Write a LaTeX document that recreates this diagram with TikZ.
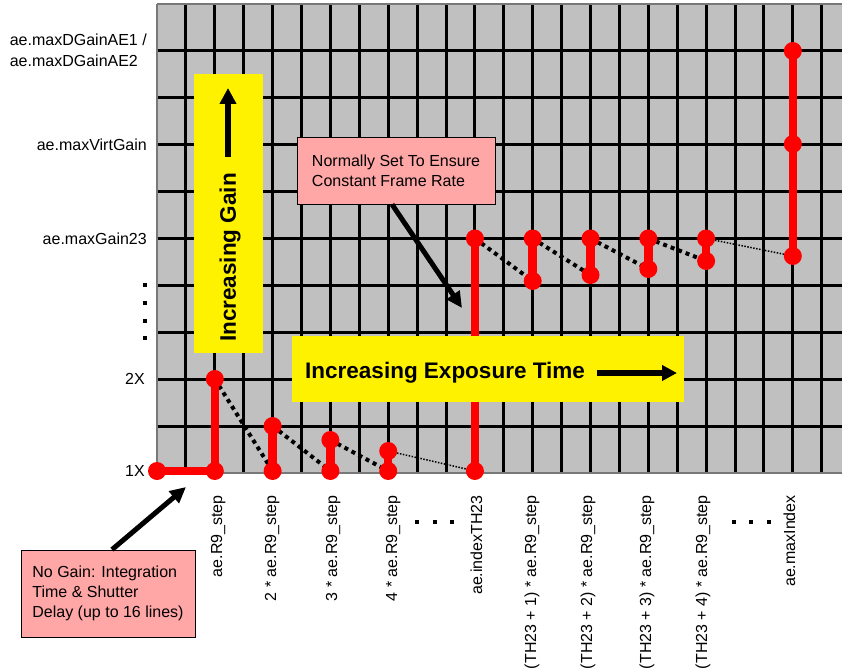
\documentclass[tikz,border=0pt]{standalone}
\usepackage{fontspec}
\setmainfont{Liberation Sans}
\usetikzlibrary{arrows.meta}
\definecolor{gridgray}{RGB}{192,192,192}
\definecolor{notepink}{RGB}{255,166,166}
\definecolor{ptred}{RGB}{255,0,0}
\definecolor{framegray}{RGB}{120,120,120}
\begin{document}
\begin{tikzpicture}[x=1pt,y=-1pt,
  reddot/.style={circle,fill=ptred,inner sep=0pt,minimum size=18pt},
  redline/.style={draw=ptred,line width=8.5pt},
  thickdots/.style={line width=4pt,dash pattern=on 4pt off 4pt},
  thindots/.style={line width=1.5pt,dash pattern=on 1.5pt off 1.5pt},
  gridline/.style={line width=3pt},
  axlabel/.style={font=\fontsize{16}{21}\selectfont,inner sep=0pt},
  ticklabel/.style={font=\fontsize{16}{18}\selectfont,inner sep=0pt,rotate=90,anchor=base east},
  yellowbox/.style={fill=yellow,inner sep=0pt},
  notebox/.style={fill=notepink,draw=black,line width=0.8pt,inner sep=0pt,align=left,font=\fontsize{16}{20}\selectfont},
  bigarrow/.style={line width=5pt,-{Triangle[length=16pt,width=15pt]}},
  boldtext/.style={font=\bfseries\fontsize{22.5}{26}\selectfont,inner sep=0pt},
  ellipsisdot/.style={fill=black,minimum size=4pt,inner sep=0pt}]
\useasboundingbox (0,0) rectangle (842,668);
% grid
\fill[gridgray] (157,4) rectangle (842,473);
\foreach \k in {1,...,23} \draw[gridline] ({157+28.9*\k},4) -- ({157+28.9*\k},473);
\foreach \j in {1,...,9} \draw[gridline] (157,{473-46.9*\j}) -- (842,{473-46.9*\j});
\draw[framegray,line width=1.5pt] (157,4) -- (157,473) -- (842,473);
\draw[framegray,line width=2.5pt] (157,4) -- (842,4);
% points
\coordinate (a0) at (157,471);
\coordinate (a1) at (214.8,471);
\coordinate (t1) at (214.8,379);
\coordinate (b2) at (272.6,471);
\coordinate (t2) at (272.6,426);
\coordinate (b3) at (330.4,471);
\coordinate (t3) at (330.4,440);
\coordinate (b4) at (388.2,471);
\coordinate (t4) at (388.2,451);
\coordinate (b5) at (474.9,471);
\coordinate (t5) at (474.9,238.5);
\coordinate (t6) at (532.7,238.5);
\coordinate (b6) at (532.7,281);
\coordinate (t7) at (590.5,238.5);
\coordinate (b7) at (590.5,275);
\coordinate (t8) at (648.3,238.5);
\coordinate (b8) at (648.3,269);
\coordinate (t9) at (706.1,238.5);
\coordinate (b9) at (706.1,261);
\coordinate (m1) at (792.8,51);
\coordinate (m2) at (792.8,144);
\coordinate (m3) at (792.8,256);
% dotted connections
\draw[thickdots] (t1) -- (b2);
\draw[thickdots] (t2) -- (b3);
\draw[thickdots] (t3) -- (b4);
\draw[thindots] (t4) -- (b5);
\draw[thickdots] (t5) -- (b6);
\draw[thickdots] (t6) -- (b7);
\draw[thickdots] (t7) -- (b8);
\draw[thickdots] (t8) -- (b9);
\draw[thindots] (t9) -- (m3);
% red steps
\draw[redline] (a0) -- (a1) -- (t1);
\draw[redline] (b2) -- (t2);
\draw[redline] (b3) -- (t3);
\draw[redline] (b4) -- (t4);
\draw[redline] (b5) -- (t5);
\draw[redline] (t6) -- (b6);
\draw[redline] (t7) -- (b7);
\draw[redline] (t8) -- (b8);
\draw[redline] (t9) -- (b9);
\draw[redline] (m1) -- (m3);
\foreach \p in {a0,a1,t1,b2,t2,b3,t3,b4,t4,b5,t5,t6,b6,t7,b7,t8,b8,t9,b9,m1,m2,m3}
  \node[reddot] (d\p) at (\p) {};
% yellow boxes
\node[yellowbox,minimum width=69pt,minimum height=279pt] (gainbox) at (228.5,213.5) {};
\node[boldtext,rotate=90] (gaintext) at (230,257.5) {Increasing Gain};
\coordinate (g0) at (228,157);
\coordinate (g1) at (228,88);
\draw[line width=6pt,-{Triangle[length=16pt,width=16pt]}] (g0) -- (g1);
\node[yellowbox,minimum width=392pt,minimum height=66pt] (expbox) at (488,369) {};
\node[boldtext,anchor=base west] (exptext) at (305,378) {Increasing Exposure Time};
\coordinate (e0) at (597,373);
\coordinate (e1) at (677,373);
\draw[line width=5.5pt,-{Triangle[length=15pt,width=15pt]}] (e0) -- (e1);
% notes
\node[notebox,minimum width=198pt,minimum height=67pt] (note1) at (396,170.5) {Normally Set To Ensure\\Constant Frame Rate};
\coordinate (tipA) at (462,308);
\draw[bigarrow] ([xshift=-4pt]note1.south) -- (tipA);
\node[notebox,minimum width=174pt,minimum height=87pt] (note2) at (108,593.5) {No Gain: Integration\\Time \& Shutter\\Delay (up to 16 lines)};
\coordinate (tipB) at (186,487);
\draw[bigarrow] ([xshift=4pt]note2.north) -- (tipB);
% y labels
\node[axlabel,anchor=east,align=left] (y1) at (147,50) {ae.maxDGainAE1 /\\ae.maxDGainAE2};
\node[axlabel,anchor=east] (y2) at (147,144.7) {ae.maxVirtGain};
\node[axlabel,anchor=east] (y3) at (147,238.5) {ae.maxGain23};
\node[axlabel,anchor=east] (y4) at (145,379) {2X};
\node[axlabel,anchor=east] (y5) at (145,471) {1X};
\node[ellipsisdot] (v1) at (145,285) {};
\node[ellipsisdot] (v2) at (145,303) {};
\node[ellipsisdot] (v3) at (145,320.5) {};
\node[ellipsisdot] (v4) at (145,338) {};
% x labels
\node[ticklabel] (x1) at (222,495) {ae.R9\_step};
\node[ticklabel] (x2) at (276,495) {2 * ae.R9\_step};
\node[ticklabel] (x3) at (337,495) {3 * ae.R9\_step};
\node[ticklabel] (x4) at (397,495) {4 * ae.R9\_step};
\node[ticklabel] (x5) at (482,495) {ae.indexTH23};
\node[ticklabel] (x6) at (536,495) {(TH23 + 1) * ae.R9\_step};
\node[ticklabel] (x7) at (592,495) {(TH23 + 2) * ae.R9\_step};
\node[ticklabel] (x8) at (651,495) {(TH23 + 3) * ae.R9\_step};
\node[ticklabel] (x9) at (707,495) {(TH23 + 4) * ae.R9\_step};
\node[ticklabel] (x10) at (795,495) {ae.maxIndex};
\node[ellipsisdot] (h1) at (417,521.5) {};
\node[ellipsisdot] (h2) at (434.5,521.5) {};
\node[ellipsisdot] (h3) at (452,521.5) {};
\node[ellipsisdot] (h4) at (733.5,521.5) {};
\node[ellipsisdot] (h5) at (751,521.5) {};
\node[ellipsisdot] (h6) at (768.5,521.5) {};
\end{tikzpicture}
\end{document}
